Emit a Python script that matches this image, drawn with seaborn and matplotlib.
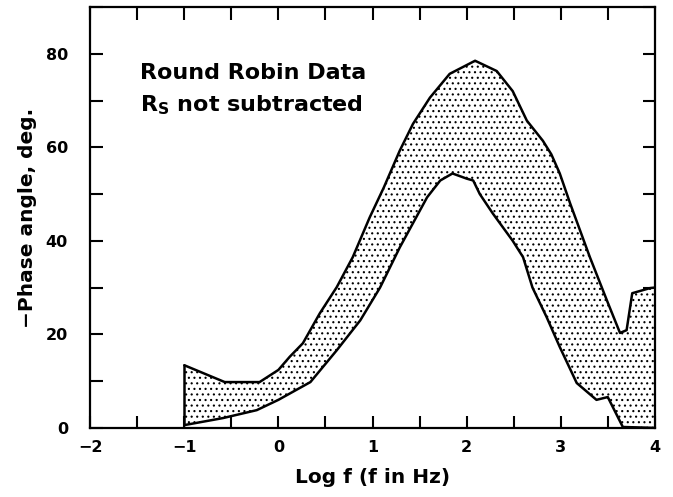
import numpy as np
import pandas as pd
import matplotlib
matplotlib.use("Agg")
import matplotlib.pyplot as plt
import seaborn as sns
from matplotlib.ticker import MultipleLocator

# Upper and lower bounds of the round robin band
upper_x = [-1.0, -0.57, -0.2, 0.0, 0.12, 0.26, 0.44, 0.62, 0.79, 0.97, 1.12, 1.29,
           1.43, 1.61, 1.82, 2.09, 2.32, 2.49, 2.64, 2.81, 2.9, 2.99, 3.1, 3.31,
           3.49, 3.63, 3.70, 3.76, 3.95, 4.0]
upper_y = [13.4, 9.8, 9.8, 12.4, 15.2, 18.1, 24.5, 30.1, 36.5, 45.0, 51.4, 59.3,
           65.0, 70.6, 75.7, 78.5, 76.3, 72.0, 65.7, 61.4, 58.5, 54.4, 48.0, 36.5,
           27.3, 20.3, 20.9, 28.8, 29.9, 30.0]

lower_x = [-1.0, -0.59, -0.23, 0.0, 0.34, 0.62, 0.87, 1.08, 1.29, 1.58, 1.72, 1.85,
           2.0, 2.07, 2.14, 2.28, 2.49, 2.6, 2.7, 2.85, 2.99, 3.17, 3.38, 3.5, 3.66, 4.0]
lower_y = [0.6, 2.1, 3.8, 6.0, 9.8, 16.6, 23.0, 30.0, 38.6, 49.3, 52.9, 54.4,
           53.3, 52.9, 50.0, 45.8, 40.0, 36.5, 30.0, 23.7, 17.3, 9.6, 6.0, 6.6, 0.2, 0.0]

x_grid = np.union1d(upper_x, lower_x)
band = pd.DataFrame({
    "logf": x_grid,
    "upper": np.interp(x_grid, upper_x, upper_y),
    "lower": np.interp(x_grid, lower_x, lower_y),
})

sns.set_style("ticks")
plt.rcParams["font.family"] = ["DejaVu Sans"]
plt.rcParams["font.weight"] = "bold"
plt.rcParams["hatch.linewidth"] = 0.8
for key in ["text.color", "axes.labelcolor", "xtick.color", "ytick.color", "axes.edgecolor"]:
    plt.rcParams[key] = "black"

fig = plt.figure(figsize=(6.73, 4.97), dpi=100)
ax = fig.add_axes([0.134, 0.139, 0.839, 0.847])

# dotted band
ax.fill_between(band["logf"], band["lower"], band["upper"], facecolor="white",
                edgecolor="black", hatch="...", linewidth=0)
sns.lineplot(data=band, x="logf", y="upper", color="black", linewidth=1.8, ax=ax)
sns.lineplot(data=band, x="logf", y="lower", color="black", linewidth=1.8, ax=ax)
ax.plot([-1, -1], [band["lower"].iloc[0], band["upper"].iloc[0]], color="black", lw=1.8)

ax.set_xlim(-2, 4)
ax.set_ylim(0, 90)
ax.xaxis.set_major_locator(MultipleLocator(1))
ax.xaxis.set_minor_locator(MultipleLocator(0.5))
ax.yaxis.set_major_locator(MultipleLocator(20))
ax.yaxis.set_minor_locator(MultipleLocator(10))
ax.tick_params(which="both", direction="in", top=True, right=True, length=9,
               width=1.5, labelsize=11.5)
ax.tick_params(axis="x", pad=9)
ax.tick_params(axis="y", pad=16)
for lab in ax.get_xticklabels() + ax.get_yticklabels():
    lab.set_fontweight("bold")
for s in ax.spines.values():
    s.set_linewidth(1.6)

ax.set_xlabel("Log f (f in Hz)", fontsize=14.5, fontweight="bold", labelpad=9)
ax.set_ylabel("\u2212Phase angle, deg.", fontsize=14.5, fontweight="bold", labelpad=6)

ax.text(-1.47, 75.9, "Round Robin Data", fontsize=16, fontweight="bold", va="center")
ax.text(-1.47, 68.9, r"R$_{\mathbf{S}}$ not subtracted", fontsize=16,
        fontweight="bold", va="center")

fig.savefig("out.png", dpi=100)
